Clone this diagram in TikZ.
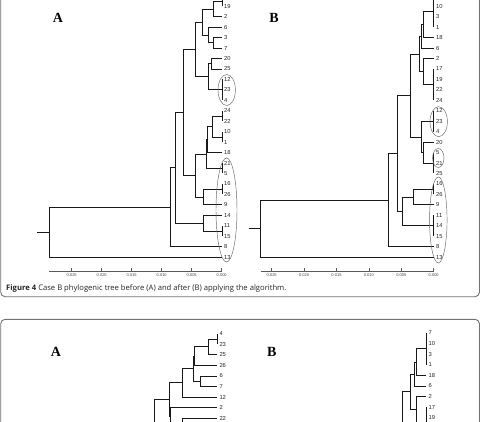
\documentclass[tikz,border=0pt]{standalone}
\usepackage{fontspec}
\setmainfont{Liberation Serif}
\setsansfont{Liberation Sans}
\newfontfamily\capfont{Open Sans}
\usetikzlibrary{shapes.geometric}
\newcommand\lfont{\sffamily\fontsize{5.8}{6.5}\selectfont}
\newcommand\tfont{\sffamily\fontsize{4}{4.5}\selectfont}
\newcommand\plfont{\rmfamily\bfseries\fontsize{14}{15}\selectfont}
\begin{document}
\begin{tikzpicture}[x=1pt,y=-1pt,
  br/.style={draw=black!90, line width=0.8pt},
  lf/.style={anchor=west, inner sep=0pt, font=\lfont, text=black!85},
  ax/.style={draw=black!65, line width=0.5pt},
  tkl/.style={anchor=north, inner sep=0pt, font=\tfont, text=black!75},
  ell/.style={draw=black!60, line width=0.45pt, ellipse, inner sep=0pt},
  frm/.style={draw=black!55, line width=0.9pt, rounded corners=4.5pt},
  pl/.style={font=\plfont, inner sep=0pt}]
\clip (0,0) rectangle (482,422);
\fill[white] (0,0) rectangle (482,422);

% ---------- frames ----------
\coordinate (f1a) at (0.7,-20);
\coordinate (f1b) at (0.7,296.7);
\coordinate (f1c) at (479.5,296.7);
\coordinate (f1d) at (479.5,-20);
\draw[frm] (f1a) -- (f1b) -- (f1c) -- (f1d);
\coordinate (f2a) at (0.7,440);
\coordinate (f2b) at (0.7,319.3);
\coordinate (f2c) at (479.5,319.3);
\coordinate (f2d) at (479.5,440);
\draw[frm] (f2a) -- (f2b) -- (f2c) -- (f2d);

% ---------- panel letters ----------
\node[pl] (LA1) at (58,18) {A};
\node[pl] (LB1) at (274,18) {B};
\node[pl] (LA2) at (56,352.3) {A};
\node[pl] (LB2) at (271.7,352.3) {B};

% ---------- caption ----------
\node[anchor=west, inner sep=0pt, font=\capfont\fontsize{7.65}{8.5}\selectfont, text=black!85] (cap) at (6,288.3)
  {\textbf{Figure 4} Case B phylogenic tree before (A) and after (B) applying the algorithm.};

% ================= Figure 4, tree A =================
\foreach \n [count=\i from 0] in {17,19,2,6,3,7,20,25,12,23,4,24,22,10,1,18,21,5,16,26,9,14,11,15,8,13}{
  \coordinate (p\n) at (222,{6.3+10.45*(\i-1)});
  \ifnum\i>0 \node[lf] (tp\n) at (224,{6.3+10.45*(\i-1)}) {\n};\fi
}
\coordinate (a1) at (222,1.075);
\coordinate (a2) at (213.3,8.91);
\coordinate (a3) at (213.3,42.875);
\coordinate (a4) at (208.3,35.04);
\coordinate (a5) at (202.3,21.98);
\coordinate (a6) at (211.7,63.775);
\coordinate (a7) at (222,89.9);
\coordinate (a8) at (208.3,76.84);
\coordinate (a9) at (195.7,49.41);
\coordinate (a10) at (222,116.03);
\coordinate (a11) at (222,136.93);
\coordinate (a12) at (212.3,126.48);
\coordinate (a13) at (207.6,139.54);
\coordinate (a14) at (222,168.28);
\coordinate (a15) at (206.6,153.91);
\coordinate (a16) at (222,189.18);
\coordinate (a17) at (203.3,197.01);
\coordinate (a18) at (195.7,175.46);
\coordinate (a19) at (183,112.44);
\coordinate (a20) at (222,230.98);
\coordinate (a21) at (203.8,223.14);
\coordinate (a22) at (175,167.79);
\coordinate (a23) at (170.7,207.22);
\coordinate (a24) at (49,232.16);
\coordinate (a0) at (37.3,232.16);
\foreach \u/\v in {a1/p17,a1/p19,a2/a1,a2/p2,a3/p3,a3/p7,a4/p6,a4/a3,a5/a2,a5/a4,
  a6/p20,a6/p25,a7/p12,a7/p4,a8/a6,a8/a7,a9/a5,a9/a8,a10/p24,a10/p22,a11/p10,a11/p1,
  a12/a10,a12/a11,a13/a12,a13/p18,a14/p21,a14/p5,a15/a13,a15/a14,a16/p16,a16/p26,
  a17/a16,a17/p9,a18/a15,a18/a17,a19/a9,a19/a18,a20/p11,a20/p15,a21/p14,a21/a20,
  a22/a19,a22/a21,a23/a22,a23/p8,a24/a23,a24/p13}
  \draw[br] (\u) |- (\v);
\draw[br] (a0) -- (a24);
\node[ell, minimum width=17.4pt, minimum height=31pt] (eA1) at (226.7,90) {};
\node[ell, minimum width=21pt, minimum height=104pt] (eA2) at (226.5,210) {};
% axis A
\coordinate (axA0) at (49,271);
\coordinate (axA1) at (221.7,271);
\draw[ax] (axA0) -- (axA1);
\foreach \k/\lab in {0/0.000,1/0.005,2/0.010,3/0.015,4/0.020,5/0.025}{
  \coordinate (tkA\k) at ({221.7-30*\k},271);
  \draw[ax] (tkA\k) -- ++(0,-3.5);
  \node[tkl] (lbA\k) at ({221.7-30*\k},273.4) {\lab};
}

% ================= Figure 4, tree B =================
\foreach \n [count=\i from 0] in {7,10,3,1,18,6,2,17,19,22,24,12,23,4,20,5,21,25,16,26,9,11,14,15,8,13}{
  \coordinate (q\n) at (433.7,{6.3+10.45*(\i-1)});
  \ifnum\i>0 \node[lf] (tq\n) at (436,{6.3+10.45*(\i-1)}) {\n};\fi
}
\coordinate (b1) at (433.7,11.525);
\coordinate (b2) at (423.6,24.59);
\coordinate (b3) at (421.7,36.35);
\coordinate (b4) at (433.7,84.68);
\coordinate (b5) at (423.3,71.61);
\coordinate (b6) at (419,53.98);
\coordinate (b7) at (433.7,121.25);
\coordinate (b8) at (433.7,163.05);
\coordinate (b10) at (423.3,152.6);
\coordinate (b11) at (421.7,136.93);
\coordinate (b12) at (410.3,95.45);
\coordinate (b13) at (433.7,189.18);
\coordinate (b14) at (413.3,197.01);
\coordinate (b15) at (433.7,225.75);
\coordinate (b16) at (402.7,211.38);
\coordinate (b17) at (397.3,153.42);
\coordinate (b18) at (388.3,200.03);
\coordinate (b19) at (260.7,228.57);
\coordinate (b0) at (249.3,228.57);
\foreach \u/\v in {b1/q7,b1/q1,b2/b1,b2/q18,b3/b2,b3/q6,b4/q17,b4/q24,b5/q2,b5/b4,
  b6/b3,b6/b5,b7/q12,b7/q4,b8/q5,b8/q25,b10/q20,b10/b8,b11/b7,b11/b10,b12/b6,b12/b11,
  b13/q16,b13/q26,b14/b13,b14/q9,b15/q11,b15/q15,b16/b14,b16/b15,b17/b12,b17/b16,
  b18/b17,b18/q8,b19/b18,b19/q13}
  \draw[br] (\u) |- (\v);
\draw[br] (b0) -- (b19);
\node[ell, minimum width=17.4pt, minimum height=30pt] (eB1) at (438.7,121.7) {};
\node[ell, minimum width=11.4pt, minimum height=19pt] (eB2) at (438.3,158) {};
\node[ell, minimum width=17.5pt, minimum height=86pt] (eB3) at (438.3,220) {};
% axis B
\coordinate (axB0) at (260.7,271);
\coordinate (axB1) at (433.7,271);
\draw[ax] (axB0) -- (axB1);
\foreach \k/\lab in {0/0.000,1/0.005,2/0.010,3/0.015,4/0.020,5/0.025}{
  \coordinate (tkB\k) at ({433.7-32.4*\k},271);
  \draw[ax] (tkB\k) -- ++(0,-3.5);
  \node[tkl] (lbB\k) at ({433.7-32.4*\k},273.4) {\lab};
}

% ================= Figure 5, tree A =================
\foreach \n [count=\i from 0] in {4,23,25,26,6,7,12,2,22}{
  \coordinate (r\n) at (217.3,{333.7+10.55*\i});
  \node[lf] (tr\n) at (219.3,{333.7+10.55*\i}) {\n};
}
\coordinate (rx1) at (217.3,432.6);
\coordinate (rx2) at (154,440);
\coordinate (c1) at (217.3,338.98);
\coordinate (c2) at (208.3,346.89);
\coordinate (c3) at (194.5,356.12);
\coordinate (c4) at (200,381.18);
\coordinate (c5) at (193.5,368.65);
\coordinate (c6) at (182.7,382.83);
\coordinate (c9) at (182.7,425.4);
\coordinate (c8) at (170.7,416.5);
\coordinate (c7) at (169.3,399.7);
\coordinate (c10) at (154,420);
\foreach \u/\v in {c1/r4,c1/r23,c2/c1,c2/r25,c3/c2,c3/r26,c4/r6,c4/r7,c5/c3,c5/c4,
  c6/c5,c6/r12,c9/r22,c9/rx1,c8/r2,c8/c9,c7/c6,c7/c8,c10/c7,c10/rx2}
  \draw[br] (\u) |- (\v);

% ================= Figure 5, tree B =================
\foreach \n [count=\i from 0] in {7,10,3,1,18,6,2,17,19}{
  \coordinate (s\n) at (426.2,{332.9+10.6*\i});
  \node[lf] (ts\n) at (428.4,{332.9+10.6*\i}) {\n};
}
\coordinate (s24) at (426.2,438.9);
\coordinate (sx1) at (402.7,440);
\coordinate (d1) at (426.2,348.8);
\coordinate (d2) at (416.3,362.05);
\coordinate (d3) at (414,373.98);
\coordinate (d4) at (426.2,423.0);
\coordinate (d5) at (416.7,409.75);
\coordinate (d6) at (410.5,391.87);
\coordinate (d7) at (402.7,420);
\foreach \u/\v in {d1/s7,d1/s1,d2/d1,d2/s18,d3/d2,d3/s6,d4/s17,d4/s24,d5/s2,d5/d4,
  d6/d3,d6/d5,d7/d6,d7/sx1}
  \draw[br] (\u) |- (\v);
\end{tikzpicture}
\end{document}
